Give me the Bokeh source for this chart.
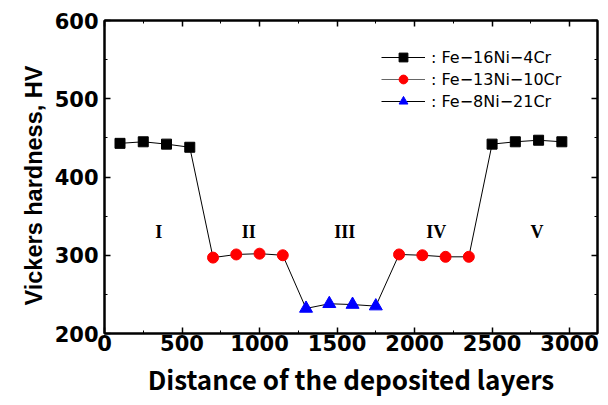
from bokeh.plotting import figure
from bokeh.models import (Range1d, LinearAxis, SingleIntervalTicker, Legend, LegendItem,
                          ColumnDataSource, CustomJSTickFormatter, Title)
from bokeh.embed import file_html
from bokeh.resources import INLINE

# data
x_all = [100, 250, 400, 550, 700, 850, 1000, 1150, 1300, 1450, 1600, 1750,
         1900, 2050, 2200, 2350, 2500, 2650, 2800, 2950]
y_all = [443, 445, 442, 438, 297, 301, 302, 300, 232, 238, 237, 235,
         301, 300, 298, 298, 442, 445, 447, 445]
x_a = [100, 250, 400, 550, 2500, 2650, 2800, 2950]
y_a = [443, 445, 442, 438, 442, 445, 447, 445]
x_b = [700, 850, 1000, 1150, 1900, 2050, 2200, 2350]
y_b = [297, 301, 302, 300, 301, 300, 298, 298]
x_c = [1300, 1450, 1600, 1750]
y_c = [232, 238, 237, 235]
names = [": Fe\u221216Ni\u22124Cr", ": Fe\u221213Ni\u221210Cr", ": Fe\u22128Ni\u221221Cr"]
zones = ["I", "II", "III", "IV", "V"]
zone_x = [350, 930, 1550, 2140, 2790]
zone_y = [330, 330, 330, 330, 330]
x_title = "Distance of the deposited layers"
y_title = "Vickers hardness, HV"

p = figure(width=600, height=403, output_backend="svg", toolbar_location=None,
           x_range=Range1d(0, 3180), y_range=Range1d(200, 600),
           min_border_left=104, min_border_right=3, min_border_top=20, min_border_bottom=70,
           x_axis_location=None, y_axis_location=None)
p.grid.visible = False
p.outline_line_color = "black"
p.outline_line_width = 2
p.background_fill_color = "white"
p.border_fill_color = "white"

xt = SingleIntervalTicker(interval=500, num_minor_ticks=2)
yt = SingleIntervalTicker(interval=100, num_minor_ticks=2)

def style(ax, labels=True):
    ax.axis_line_width = 2
    ax.axis_line_color = "black"
    ax.major_tick_in = 6
    ax.major_tick_out = 0
    ax.minor_tick_in = 3
    ax.minor_tick_out = 0
    ax.major_tick_line_width = 1.5
    ax.major_tick_line_color = "black"
    ax.minor_tick_line_color = "black"
    if labels:
        ax.major_label_text_font = "DejaVu Sans"
        ax.major_label_text_font_style = "bold"
        ax.major_label_text_font_size = "21px"
        ax.major_label_text_color = "black"
    else:
        ax.formatter = CustomJSTickFormatter(code="return ''")
        ax.major_label_standoff = 0

xb = LinearAxis(ticker=xt)
style(xb)
xb.major_label_standoff = 1
p.add_layout(xb, "below")

yl = LinearAxis(ticker=yt)
style(yl)
yl.major_label_standoff = 6
p.add_layout(yl, "left")

xtop = LinearAxis(ticker=xt)
style(xtop, labels=False)
p.add_layout(xtop, "above")
yr = LinearAxis(ticker=yt)
style(yr, labels=False)
p.add_layout(yr, "right")

# axis titles
p.add_layout(Title(text=x_title, align="center", standoff=8,
                   text_font="Noto Sans CJK JP", text_font_style="bold",
                   text_font_size="26px", text_color="black"), "below")
p.add_layout(Title(text=y_title, align="left", offset=28, standoff=10,
                   text_font="Liberation Sans", text_font_style="bold",
                   text_font_size="23.5px", text_color="black"), "left")

p.line(x_all, y_all, line_color="black", line_width=1)
ra = p.scatter(x_a, y_a, marker="square", size=10, fill_color="black", line_color="black")
rb = p.scatter(x_b, y_b, marker="circle", size=11, fill_color="red", line_color="red")
rc = p.scatter(x_c, y_c, marker="triangle", size=13, fill_color="blue", line_color="blue")

la = p.line([0], [0], line_color="black", line_width=1, visible=False)
lb = p.line([0], [0], line_color="#666666", line_width=1, visible=False)
lc = p.line([0], [0], line_color="black", line_width=1, visible=False)

legend = Legend(items=[LegendItem(label=names[0], renderers=[la, ra]),
                       LegendItem(label=names[1], renderers=[lb, rb]),
                       LegendItem(label=names[2], renderers=[lc, rc])],
                location=(277, 221), padding=0, margin=0, spacing=0,
                glyph_width=44, glyph_height=22, label_height=22, label_standoff=6,
                background_fill_alpha=0, border_line_alpha=0,
                label_text_font="DejaVu Sans", label_text_font_size="16px",
                label_text_color="black")
p.add_layout(legend, "center")

src = ColumnDataSource(dict(x=zone_x, y=zone_y, t=zones))
p.text(x="x", y="y", text="t", source=src, text_align="center", text_baseline="middle",
       text_font={"value": "Liberation Serif"}, text_font_style="bold",
       text_font_size={"value": "18px"}, text_color="black")

open("out.html", "w").write(file_html(p, INLINE))
